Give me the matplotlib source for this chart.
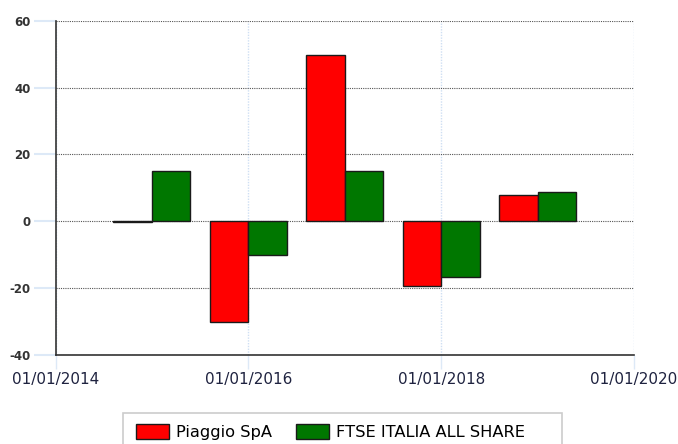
import datetime as dt
import matplotlib
matplotlib.use("Agg")
import matplotlib.pyplot as plt
import matplotlib.dates as mdates
from matplotlib.patches import Rectangle

plt.rcParams["axes.unicode_minus"] = False

years = [2015, 2016, 2017, 2018, 2019]
piaggio = [-0.3, -30.2, 49.7, -19.3, 7.9]
ftse = [15.1, -10.1, 15.1, -16.8, 8.7]
series_names = ["Piaggio SpA", "FTSE ITALIA ALL SHARE"]
x_ticks = [2014, 2016, 2018, 2020]
y_ticks = [-40, -20, 0, 20, 40, 60]

W, H = 678, 444
dates = [dt.date(y, 1, 1) for y in years]
bar_w = 146  # days

fig = plt.figure(figsize=(W / 100, H / 100), dpi=100)
ax = fig.add_axes([0.0819, 0.2005, 0.853, 0.753])

ax.bar(dates, piaggio, width=-bar_w, align="edge", color="#ff0000",
       edgecolor="#1a1a1a", linewidth=1.0, label=series_names[0], zorder=3)
ax.bar(dates, ftse, width=bar_w, align="edge", color="#007700",
       edgecolor="#1a1a1a", linewidth=1.0, label=series_names[1], zorder=3)

ax.set_xlim(dt.date(x_ticks[0], 1, 1), dt.date(x_ticks[-1], 1, 1))
ax.set_ylim(y_ticks[0], y_ticks[-1])
ax.set_xticks([dt.date(y, 1, 1) for y in x_ticks])
ax.xaxis.set_major_formatter(mdates.DateFormatter("%d/%m/%Y"))
ax.set_yticks(y_ticks)

ax.yaxis.grid(True, linestyle=(0, (1, 1)), color="#555555", linewidth=0.8, zorder=1)
ax.xaxis.grid(True, linestyle=(0, (1, 1)), color="#cfdff3", linewidth=1.0, zorder=1)

for s in ["top", "right"]:
    ax.spines[s].set_visible(False)
for s in ["left", "bottom"]:
    ax.spines[s].set_color("#333333")
    ax.spines[s].set_linewidth(1.2)

ax.tick_params(axis="y", length=16, color="#dde9f7", width=1.5, pad=2,
               labelsize=8.5, labelcolor="#333333")
ax.tick_params(axis="x", length=10, color="#dde9f7", width=1, pad=2,
               labelsize=11, labelcolor="#1f2340")
for lbl in ax.get_yticklabels():
    lbl.set_fontweight("bold")

# legend box (partly below the figure edge, as in the original)
fig.patches.append(Rectangle((123 / W, 1 - 453 / H), 439 / W, 40 / H,
                             transform=fig.transFigure, facecolor="white",
                             edgecolor="#cccccc", linewidth=1.2))
fig.legend(loc="center left", bbox_to_anchor=(136 / W, 1 - 432 / H),
           ncol=2, fontsize=11.7, frameon=False, handlelength=2.0,
           handleheight=1.0, borderpad=0.0, borderaxespad=0.0,
           columnspacing=1.5, handletextpad=0.45)

fig.savefig("out.png", dpi=100)
